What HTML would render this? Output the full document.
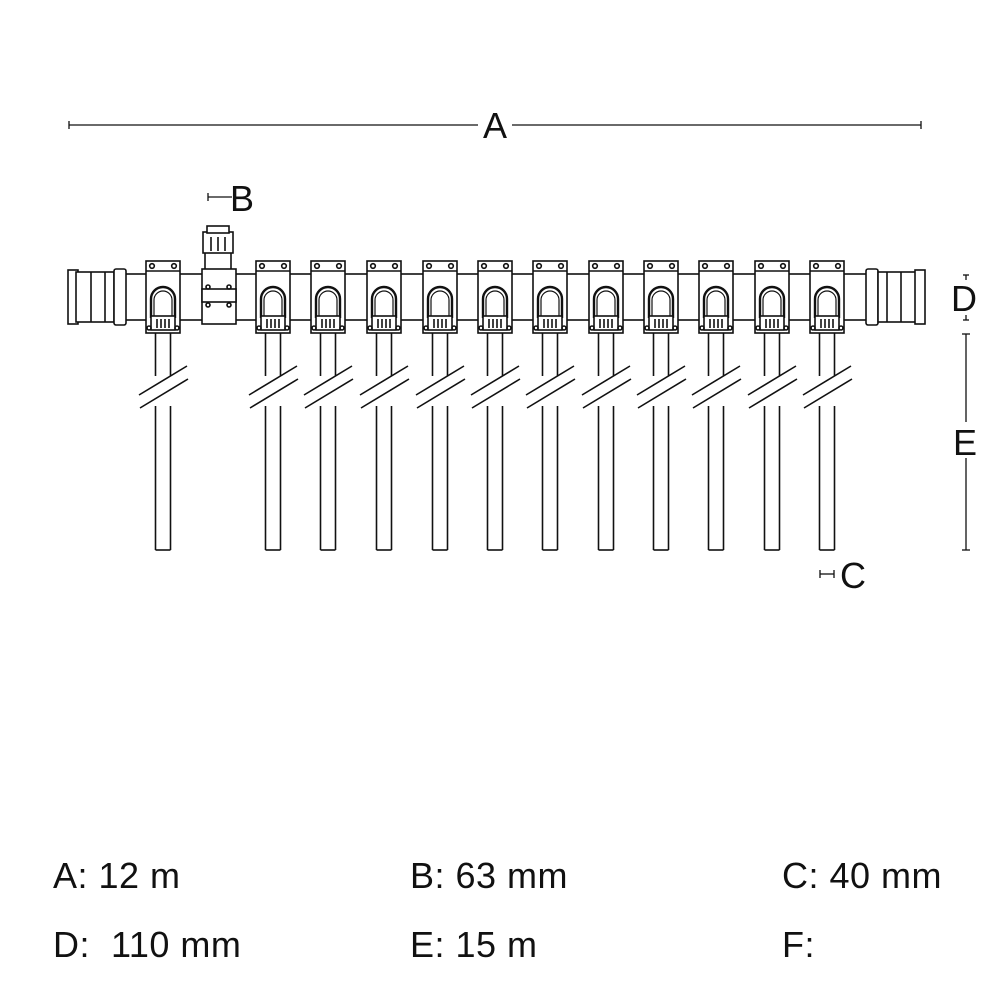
<!DOCTYPE html>
<html><head><meta charset="utf-8"><style>
html,body{margin:0;padding:0;background:#fff;}
svg{display:block;}
text{font-family:"Liberation Sans",sans-serif;fill:#111;white-space:pre;}
</style></head><body>
<svg width="1000" height="1000" viewBox="0 0 1000 1000" xmlns="http://www.w3.org/2000/svg">
<defs>
<g id="clamp" fill="#fff" stroke="#111" stroke-width="1.6">
  <rect x="-7.5" y="330" width="15" height="45" stroke="none"/>
  <line x1="-7.5" y1="333" x2="-7.5" y2="376"/>
  <line x1="7.5" y1="333" x2="7.5" y2="376"/>
  <line x1="-7.5" y1="406" x2="-7.5" y2="550"/>
  <line x1="7.5" y1="406" x2="7.5" y2="550"/>
  <line x1="-7.5" y1="550" x2="7.5" y2="550"/>
  <line x1="-24" y1="395" x2="24" y2="366"/>
  <line x1="-23" y1="408" x2="25" y2="379"/>
  <rect x="-17" y="261" width="34" height="72"/>
  <line x1="-17" y1="271" x2="17" y2="271"/>
  <circle cx="-11" cy="266" r="2.3"/>
  <circle cx="11" cy="266" r="2.3"/>
  <path d="M-12 318 L-12 299 A12 12 0 0 1 12 299 L12 318" stroke-width="2.4"/>
  <path d="M-9 318 L-9 300 A9 9 0 0 1 9 300 L9 318" stroke-width="1.2"/>
  <rect x="-12" y="316" width="24" height="14"/>
  <line x1="-6" y1="319" x2="-6" y2="328"/><line x1="-2" y1="319" x2="-2" y2="328"/>
  <line x1="2" y1="319" x2="2" y2="328"/><line x1="6" y1="319" x2="6" y2="328"/>
  <circle cx="-14" cy="328" r="2"/><circle cx="14" cy="328" r="2"/>
</g>
</defs>
<g stroke="#111" stroke-width="1.6" fill="#fff">
  <rect x="120" y="274" width="756" height="46"/>
  <rect x="68" y="270" width="10" height="54"/>
  <rect x="76" y="272" width="38" height="50"/>
  <line x1="91" y1="272" x2="91" y2="322"/><line x1="105" y1="272" x2="105" y2="322"/>
  <rect x="114" y="269" width="12" height="56" rx="2"/>
  <rect x="866" y="269" width="12" height="56" rx="2"/>
  <rect x="878" y="272" width="38" height="50"/>
  <line x1="887" y1="272" x2="887" y2="322"/><line x1="901" y1="272" x2="901" y2="322"/>
  <rect x="915" y="270" width="10" height="54"/>
  <rect x="205" y="252" width="26" height="18"/>
  <rect x="203" y="232" width="30" height="21"/>
  <rect x="207" y="226" width="22" height="7"/>
  <line x1="211" y1="237" x2="211" y2="251"/><line x1="218" y1="237" x2="218" y2="251"/><line x1="225" y1="237" x2="225" y2="251"/>
  <rect x="202" y="269" width="34" height="55"/>
  <rect x="202" y="289" width="34" height="13"/>
  <circle cx="208" cy="287" r="2"/><circle cx="229" cy="287" r="2"/>
  <circle cx="208" cy="305" r="2"/><circle cx="229" cy="305" r="2"/>
</g>
<use href="#clamp" x="163"/>
<use href="#clamp" x="273"/>
<use href="#clamp" x="328"/>
<use href="#clamp" x="384"/>
<use href="#clamp" x="440"/>
<use href="#clamp" x="495"/>
<use href="#clamp" x="550"/>
<use href="#clamp" x="606"/>
<use href="#clamp" x="661"/>
<use href="#clamp" x="716"/>
<use href="#clamp" x="772"/>
<use href="#clamp" x="827"/>
<g stroke="#111" stroke-width="1.3" fill="none">
  <line x1="69" y1="125" x2="478" y2="125"/><line x1="512" y1="125" x2="921" y2="125"/>
  <line x1="69" y1="121" x2="69" y2="129"/><line x1="921" y1="121" x2="921" y2="129"/>
  <line x1="208" y1="197" x2="232" y2="197"/><line x1="208" y1="193" x2="208" y2="201"/>
  <line x1="966" y1="275" x2="966" y2="280"/><line x1="963" y1="275" x2="969" y2="275"/>
  <line x1="966" y1="315" x2="966" y2="320"/><line x1="963" y1="320" x2="969" y2="320"/>
  <line x1="966" y1="334" x2="966" y2="422"/><line x1="966" y1="458" x2="966" y2="550"/>
  <line x1="962" y1="334" x2="970" y2="334"/><line x1="962" y1="550" x2="970" y2="550"/>
  <line x1="820" y1="574" x2="834" y2="574"/><line x1="820" y1="570" x2="820" y2="578"/><line x1="834" y1="570" x2="834" y2="578"/>
</g>
<g font-size="36">
  <text x="483" y="138">A</text>
  <text x="230" y="211">B</text>
  <text x="951" y="311">D</text>
  <text x="953" y="455">E</text>
  <text x="840" y="588">C</text>
</g>
<g font-size="36" letter-spacing="0.5">
  <text x="53" y="888">A: 12 m</text>
  <text x="410" y="888">B: 63 mm</text>
  <text x="782" y="888">C: 40 mm</text>
  <text x="53" y="957">D:&#160; 110 mm</text>
  <text x="410" y="957">E: 15 m</text>
  <text x="782" y="957">F:</text>
</g>
</svg>
</body></html>
